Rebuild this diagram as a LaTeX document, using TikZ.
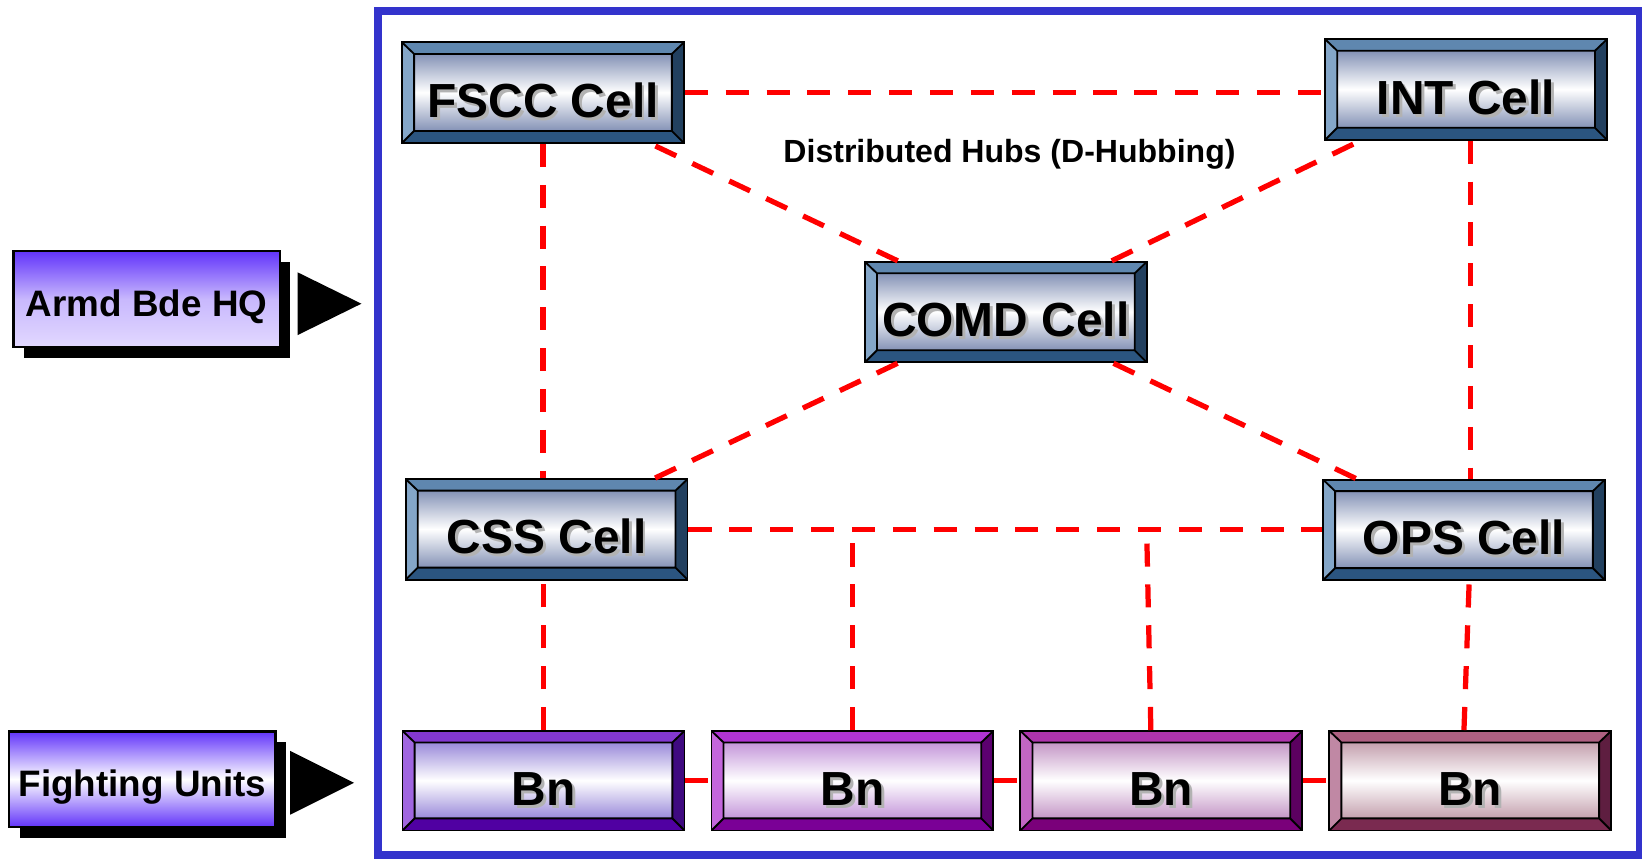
\documentclass[tikz,border=0pt]{standalone}
\usepackage{fontspec}
\setmainfont{Liberation Sans}
\usetikzlibrary{positioning,calc,shadows}

\definecolor{framec}{RGB}{51,51,204}
\definecolor{hqviolet}{RGB}{98,52,250}
\definecolor{hqpale}{RGB}{226,216,255}
% cell colours
\definecolor{celltop}{RGB}{95,135,175}
\definecolor{cellleft}{RGB}{132,166,200}
\definecolor{cellright}{RGB}{34,64,95}
\definecolor{cellbot}{RGB}{43,85,128}
\definecolor{cellin}{RGB}{132,146,182}
% battalion colours
\definecolor{bnAtop}{RGB}{131,56,208}
\definecolor{bnAleft}{RGB}{160,102,224}
\definecolor{bnAright}{RGB}{63,10,128}
\definecolor{bnAbot}{RGB}{80,0,162}
\definecolor{bnAin}{RGB}{154,138,218}
\definecolor{bnBtop}{RGB}{176,52,212}
\definecolor{bnBleft}{RGB}{196,102,220}
\definecolor{bnBright}{RGB}{92,0,112}
\definecolor{bnBbot}{RGB}{122,0,150}
\definecolor{bnBin}{RGB}{196,150,218}
\definecolor{bnCtop}{RGB}{174,52,172}
\definecolor{bnCleft}{RGB}{194,102,196}
\definecolor{bnCright}{RGB}{92,0,96}
\definecolor{bnCbot}{RGB}{122,0,122}
\definecolor{bnCin}{RGB}{196,150,198}
\definecolor{bnDtop}{RGB}{174,96,130}
\definecolor{bnDleft}{RGB}{192,136,164}
\definecolor{bnDright}{RGB}{94,30,64}
\definecolor{bnDbot}{RGB}{122,42,80}
\definecolor{bnDin}{RGB}{196,160,174}

\newcommand{\shadowtxt}[1]{\rlap{\kern0.8pt\raisebox{-0.8pt}{\textcolor{black!30}{#1}}}#1}

\begin{document}
\begin{tikzpicture}[
x=0.01cm, y=-0.01cm,
bevel/.style={
  rectangle,
  draw=black,
  line width=0.5pt,
  minimum width=2.69cm,
  minimum height=0.96cm,
  inner sep=0pt,
  text height=0.47cm,
  text depth=0pt,
  font=\fontsize{13}{15}\selectfont\bfseries,
  path picture={
    \path (path picture bounding box.north west) coordinate (a)
          (path picture bounding box.south east) coordinate (c);
    \path (a) ++(0.115cm,-0.11cm) coordinate (ai)
          (c) ++(-0.115cm,0.115cm) coordinate (ci);
    \fill[#1top] (a) -- (a -| c) -- (ai -| ci) -- (ai) -- cycle;
    \fill[#1left] (a) -- (ai) -- (ai |- ci) -- (a |- c) -- cycle;
    \fill[#1right] (a -| c) -- (c) -- (ci) -- (ai -| ci) -- cycle;
    \fill[#1bot] (a |- c) -- (ai |- ci) -- (ci) -- (c) -- cycle;
    \shade[top color=#1in, bottom color=#1in, middle color=white] (ai) rectangle (ci);
    \draw[line width=0.5pt] (ai) rectangle (ci)
      (a) -- (ai) (a -| c) -- (ai -| ci) (c) -- (ci) (a |- c) -- (ai |- ci);
    }
  },
hq/.style={
  rectangle,
  draw=black,
  line width=0.6pt,
  minimum width=2.54cm,
  minimum height=0.91cm,
  inner sep=0pt,
  text height=0.33cm,
  text depth=0pt,
  font=\fontsize{10}{12}\selectfont\bfseries,
  drop shadow={fill=black, opacity=1, shadow xshift=0.1cm, shadow yshift=-0.105cm}
  },
link/.style={
  draw=red,
  line width=0.05cm,
  dash pattern=on 0.22cm off 0.17cm
  },
>=latex
]
\useasboundingbox (0,0) rectangle (1568,820);

% outer frame
\draw[framec, line width=0.076cm] (361,10.5) rectangle (1566,816);

% left labels
\node[hq, top color=hqviolet, bottom color=hqpale, middle color=hqviolet!35!white] (hq) at (140,285.5) {Armd Bde HQ};
\node[hq, top color=hqviolet, bottom color=hqviolet, middle color=white] (fu) at (136,744) {Fighting Units};
\fill ($(hq.east)+(16,-25.5)$) -- ++(0,60) -- ++(61,-30) -- cycle;
\fill ($(fu.east)+(13,-27)$) -- ++(0,61) -- ++(61,-30.5) -- cycle;

% cells
\node[bevel=cell] (fscc) at (518.5,88.5) {\shadowtxt{FSCC Cell}};
\node[bevel=cell] (int) at (1400,85.5) {\shadowtxt{INT Cell}};
\node[bevel=cell] (comd) at (960.5,298) {\shadowtxt{COMD Cell}};
\node[bevel=cell] (css) at (522,505.5) {\shadowtxt{CSS Cell}};
\node[bevel=cell] (ops) at (1398,506) {\shadowtxt{OPS Cell}};
\node[font=\fontsize{8.7}{10}\selectfont\bfseries] (hubs) at (964,147) {Distributed Hubs (D-Hubbing)};

% battalions
\foreach \c [count=\i] in {bnA,bnB,bnC,bnD}
  \node[bevel/.expanded=\c, minimum height=0.95cm] (bn\i) at ({519+295*(\i-1)},745.5) {\shadowtxt{Bn}};

% hub links
\draw[link] (fscc.east) -- (fscc.east -| int.west);
\draw[link] (fscc.south) -- (fscc.south |- css.north);
\draw[link] ([xshift=0.04cm]int.south) -- ([xshift=0.04cm]int.south |- ops.north);
\foreach \n in {fscc,int,css,ops}
  \draw[link] (comd) -- (\n);
\draw[link] (css.east) -- (css.east -| ops.west);

% down to battalions
\draw[link] (bn1.north) -- (bn1.north |- css.south);
\draw[link] (bn2.north) -- (bn2.north |- css.east);
\draw[link] ([xshift=-0.10cm]bn3.north) -- ([xshift=-0.14cm]bn3.north |- css.east);
\draw[link] ([xshift=-0.06cm]bn4.north) -- ([xshift=0.05cm]ops.south);
\foreach \a/\b in {1/2,2/3,3/4}
  \draw[link] (bn\a) -- (bn\b);
\end{tikzpicture}
\end{document}
